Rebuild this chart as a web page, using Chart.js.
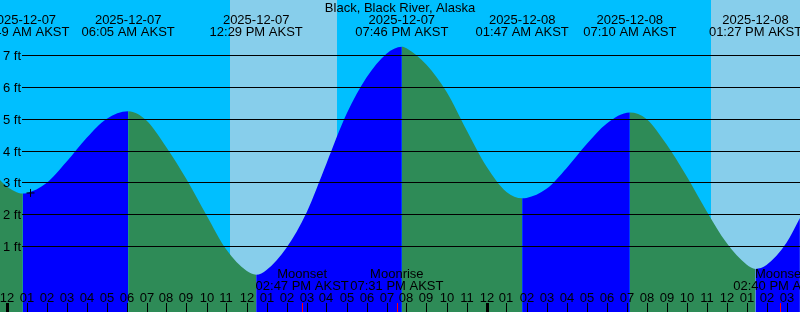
<!doctype html>
<html>
    <head>
        <title>Black, Black River, Alaska</title>
        <script src="https://cdn.jsdelivr.net/npm/chart.js@4"></script>
        <style>
            body { margin: 0; background: #00bfff; }
            canvas { display: block; }
        </style>
    </head>

    <body>
        <canvas id="tideChart" width="800" height="312"></canvas>
        <script>
            // hours since midnight 2025-12-07 (AKST) and water level in feet
            var tideHours = [-0.33, 0, 0.817, 1, 2, 3, 4, 5, 6.083, 7, 8, 9, 10, 11, 12, 12.483, 13, 14, 15, 16, 17, 18, 19, 19.767,
                20, 21, 22, 23, 24, 25, 25.783, 26, 27, 28, 29, 30, 31.167, 32, 33, 34, 35, 36, 37, 37.45, 38, 39, 39.67];
            var tideFeet = [3.08, 2.88, 2.65, 2.66, 2.98, 3.65, 4.4, 5.0, 5.24, 4.95, 4.1, 3.1, 1.97, 0.88, 0.22, 0.1, 0.25, 0.95, 2.05, 3.6, 5.15, 6.3, 7.05, 7.27,
                7.22, 6.7, 5.85, 4.65, 3.5, 2.7, 2.5, 2.51, 2.8, 3.45, 4.2, 4.85, 5.2, 5.0, 4.2, 3.2, 2.1, 1.1, 0.42, 0.28, 0.4, 1.1, 1.88];

            var extremaHours = [0.817, 6.083, 12.483, 19.767, 25.783, 31.167, 37.45];
            var extremaDates = ["2025-12-07", "2025-12-07", "2025-12-07", "2025-12-07", "2025-12-08", "2025-12-08", "2025-12-08"];
            var extremaTimes = ["12:49 AM AKST", "06:05 AM AKST", "12:29 PM AKST", "07:46 PM AKST", "01:47 AM AKST", "07:10 AM AKST", "01:27 PM AKST"];

            var sunriseHours = [11.15, 35.2];
            var sunsetHours = [16.5, 40.5];

            var moonHours = [14.783, 19.517, 38.667];
            var moonNames = ["Moonset", "Moonrise", "Moonset"];
            var moonTimes = ["02:47 PM AKST", "07:31 PM AKST", "02:40 PM AKST"];

            var nowHour = [1.2];
            var nowFeet = [2.67];

            var footLevels = [1, 2, 3, 4, 5, 6, 7];
            var hourTicks = [];
            for (var h = 0; h <= 39; h++) {
                hourTicks.push(h);
            }

            var NIGHT = '#00bfff';
            var DAY = '#87ceeb';
            var RISING = '#0000ff';
            var FALLING = '#2e8b57';
            var FONT = '13px "Liberation Sans", Arial, sans-serif';

            function hourLabel(h) {
                var v = h % 12;
                if (v === 0) v = 12;
                return (v < 10 ? "0" : "") + v;
            }

            var skyPlugin = {
                id: 'sky',
                beforeDatasetsDraw: function (chart) {
                    var ctx = chart.ctx;
                    var area = chart.chartArea;
                    var x = chart.scales.x;
                    ctx.save();
                    ctx.fillStyle = NIGHT;
                    ctx.fillRect(area.left, area.top, area.right - area.left, area.bottom - area.top);
                    ctx.fillStyle = DAY;
                    for (var i = 0; i < sunriseHours.length; i++) {
                        var x0 = Math.round(x.getPixelForValue(sunriseHours[i]));
                        var x1 = Math.round(x.getPixelForValue(sunsetHours[i]));
                        ctx.fillRect(x0, area.top, x1 - x0, area.bottom - area.top);
                    }
                    ctx.restore();
                }
            };

            var labelPlugin = {
                id: 'labels',
                afterDatasetsDraw: function (chart) {
                    var ctx = chart.ctx;
                    var area = chart.chartArea;
                    var x = chart.scales.x;
                    var y = chart.scales.y;
                    ctx.save();
                    ctx.font = FONT;
                    ctx.fillStyle = '#000';
                    ctx.strokeStyle = '#000';

                    // level lines with labels
                    ctx.lineWidth = 1;
                    ctx.textAlign = 'left';
                    ctx.textBaseline = 'alphabetic';
                    for (var i = 0; i < footLevels.length; i++) {
                        var py = Math.round(y.getPixelForValue(footLevels[i])) + 0.5;
                        ctx.beginPath();
                        ctx.moveTo(22, py);
                        ctx.lineTo(area.right, py);
                        ctx.stroke();
                        ctx.fillText(footLevels[i] + " ft", 3, py + 4.5);
                    }

                    // title and high/low labels
                    ctx.textAlign = 'center';
                    ctx.fillText("Black, Black River, Alaska", 400, 12);
                    for (var j = 0; j < extremaHours.length; j++) {
                        var ex = x.getPixelForValue(extremaHours[j]);
                        ctx.fillText(extremaDates[j], ex, 24);
                        ctx.fillText(extremaTimes[j], ex, 36);
                    }

                    // moon events
                    for (var m = 0; m < moonHours.length; m++) {
                        var mx = x.getPixelForValue(moonHours[m]);
                        ctx.fillText(moonNames[m], mx, 278);
                        ctx.fillText(moonTimes[m], mx, 290);
                    }

                    // hour labels and ticks
                    for (var k = 0; k < hourTicks.length; k++) {
                        var hx = Math.round(x.getPixelForValue(hourTicks[k]));
                        ctx.fillStyle = '#000';
                        ctx.fillText(hourLabel(hourTicks[k]), hx, 302);
                        var w = hourTicks[k] % 24 === 0 ? 3 : 1;
                        ctx.fillRect(hx - Math.floor(w / 2), 303, w, 9);
                    }
                    ctx.fillStyle = '#ff0000';
                    for (var r = 0; r < moonHours.length; r++) {
                        var rx = Math.round(x.getPixelForValue(moonHours[r]));
                        ctx.fillRect(rx, 303, 1, 9);
                    }
                    ctx.restore();
                }
            };

            var tidePoints = tideHours.map(function (h, i) { return { x: h, y: tideFeet[i] }; });
            var nowPoints = nowHour.map(function (h, i) { return { x: h, y: nowFeet[i] }; });

            var chart = new Chart(document.getElementById('tideChart').getContext('2d'), {
                type: 'line',
                data: {
                    datasets: [
                        {
                            label: 'now',
                            data: nowPoints,
                            showLine: false,
                            pointStyle: 'cross',
                            pointRadius: 4,
                            borderColor: '#000',
                            borderWidth: 1
                        },
                        {
                            label: 'tide',
                            data: tidePoints,
                            cubicInterpolationMode: 'monotone',
                            pointRadius: 0,
                            borderWidth: 0,
                            borderColor: 'rgba(0,0,0,0)',
                            backgroundColor: RISING,
                            fill: 'start',
                            segment: {
                                backgroundColor: function (c) {
                                    return c.p1.parsed.y >= c.p0.parsed.y ? RISING : FALLING;
                                }
                            }
                        }
                    ]
                },
                options: {
                    responsive: false,
                    animation: false,
                    devicePixelRatio: 1,
                    layout: { padding: 0, autoPadding: false },
                    plugins: {
                        legend: { display: false },
                        title: { display: false },
                        tooltip: { enabled: false }
                    },
                    scales: {
                        x: { type: 'linear', min: -0.325, max: 39.675, display: false },
                        y: { type: 'linear', min: -1.075, max: 8.74, display: false }
                    }
                },
                plugins: [skyPlugin, labelPlugin]
            });
        </script>
    </body>

</html>
